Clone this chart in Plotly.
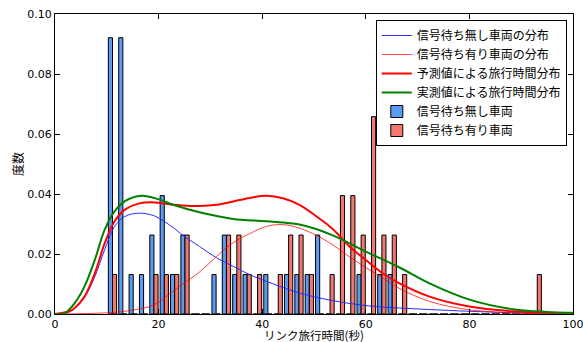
import plotly.graph_objects as go

# ---- histogram data (counts per 2-second bin, 38 vehicles each) ----
bin_left = 10.1
bin_width = 2.0
n_vehicles = 38
counts_free = [7, 7, 1, 1, 2, 3, 1, 2, 0, 0, 1, 2, 1, 1, 0, 1, 0, 1, 1, 1,
               2, 0, 0, 0, 1, 0, 1, 1, 0, 0, 0, 0, 0, 0, 0, 0, 0, 0, 0, 0, 0, 0]
counts_wait = [1, 0, 0, 0, 1, 1, 1, 2, 0, 0, 0, 2, 2, 1, 1, 0, 1, 2, 2, 1,
               0, 1, 3, 3, 2, 5, 2, 2, 1, 0, 0, 0, 0, 0, 0, 0, 0, 0, 0, 0, 0, 1]

# ---- fitted curves ----
free_x = [0, 2, 3.8, 5.7, 7.7, 9.6, 11.5, 13.5, 16.1, 19.2, 22.8, 24.7, 27.9, 31.2,
          34.4, 37.6, 40.8, 47.2, 53.5, 60, 66.5, 72.3, 80, 91.6, 100]
free_y = [0, 0.0002, 0.0019, 0.0056, 0.0125, 0.0215, 0.0292, 0.0325, 0.0336, 0.0327,
          0.0288, 0.0262, 0.0225, 0.0187, 0.0159, 0.0131, 0.0109, 0.0070, 0.0045,
          0.0028, 0.0020, 0.0015, 0.0009, 0.0003, 0.0001]

wait_x = [0, 10, 15, 19.2, 22.8, 24.7, 27.9, 31.2, 34.4, 37.6, 40.8, 44, 47.2, 50.5,
          53.5, 56.9, 60, 63.3, 66.5, 72.3, 80, 90, 100]
wait_y = [0, 0.0004, 0.0013, 0.0031, 0.0076, 0.0100, 0.0140, 0.0192, 0.0238, 0.0268,
          0.0292, 0.0298, 0.0286, 0.0262, 0.0232, 0.0190, 0.0155, 0.0120, 0.0085,
          0.0042, 0.0014, 0.0003, 0.0]

pred_x = [0, 2.8, 3.8, 5.7, 7.7, 9.6, 11.5, 13.5, 16.1, 19.2, 22.8, 27.9, 31.2, 34.4,
          37.6, 40.8, 44, 47.2, 50.5, 53.5, 56.9, 60, 63.3, 66.5, 72.3, 80, 88.4, 100]
pred_y = [0, 0.0009, 0.0020, 0.0058, 0.0136, 0.0236, 0.0309, 0.0348, 0.0368, 0.0372,
          0.0364, 0.0360, 0.0364, 0.0375, 0.0387, 0.0394, 0.0386, 0.0364, 0.0325,
          0.0285, 0.0224, 0.0180, 0.0135, 0.0102, 0.0058, 0.0025, 0.0009, 0.0002]

meas_x = [0, 1.9, 3.8, 5.7, 7.7, 9.6, 11.5, 13.5, 16.7, 19.9, 22.8, 27.9, 34.4, 40.8,
          47.2, 53.5, 60, 66.5, 72.3, 80, 88.4, 95, 100]
meas_y = [0, 0.0003, 0.0036, 0.0092, 0.0181, 0.0281, 0.0342, 0.0376, 0.0394, 0.0383,
          0.0364, 0.0339, 0.0317, 0.0309, 0.0298, 0.0263, 0.0208, 0.0155, 0.0102,
          0.0048, 0.0016, 0.0007, 0.0004]

x_ticks = [0, 20, 40, 60, 80, 100]
y_ticks = [0.00, 0.02, 0.04, 0.06, 0.08, 0.10]

bin_centers = [bin_left + bin_width * (i + 0.5) for i in range(len(counts_free))]
dens_free = [c / (n_vehicles * bin_width) for c in counts_free]
dens_wait = [c / (n_vehicles * bin_width) for c in counts_wait]

fig = go.Figure()
fig.add_trace(go.Bar(x=bin_centers, y=dens_free, name="信号待ち無し車両",
                     marker=dict(color="#5b9cf2", line=dict(color="black", width=1)),
                     legendrank=5))
fig.add_trace(go.Bar(x=bin_centers, y=dens_wait, name="信号待ち有り車両",
                     marker=dict(color="#f4776f", line=dict(color="black", width=1)),
                     legendrank=6))
fig.add_trace(go.Scatter(x=free_x, y=free_y, mode="lines", name="信号待ち無し車両の分布",
                         line=dict(color="#2a2aff", width=1, shape="spline"), legendrank=1))
fig.add_trace(go.Scatter(x=wait_x, y=wait_y, mode="lines", name="信号待ち有り車両の分布",
                         line=dict(color="rgba(255,0,0,0.75)", width=1, shape="spline"), legendrank=2))
fig.add_trace(go.Scatter(x=pred_x, y=pred_y, mode="lines", name="予測値による旅行時間分布",
                         line=dict(color="#ff0000", width=2, shape="spline"), legendrank=3))
fig.add_trace(go.Scatter(x=meas_x, y=meas_y, mode="lines", name="実測値による旅行時間分布",
                         line=dict(color="#008000", width=2, shape="spline"), legendrank=4))

axis_common = dict(showgrid=False, zeroline=False, showline=True, linecolor="black",
                   linewidth=1, mirror="ticks", ticks="inside", ticklen=5,
                   tickcolor="black", automargin=False, ticklabeloverflow="allow",
                   tickfont=dict(family="DejaVu Sans", size=11, color="black"))

fig.update_xaxes(range=[0, 100], tickvals=x_ticks, ticktext=[str(v) for v in x_ticks],
                 **axis_common)
fig.update_yaxes(range=[0, 0.1], tickvals=y_ticks, ticktext=[f"{v:.2f}" for v in y_ticks],
                 **axis_common)

fig.add_annotation(text="リンク旅行時間(秒)", xref="paper", yref="paper",
                   x=0.5, y=0, yshift=-21, xanchor="center", yanchor="middle",
                   showarrow=False, borderpad=0,
                   font=dict(family="Noto Sans CJK JP", size=11.5, color="black"))
fig.add_annotation(text="度数", xref="paper", yref="paper",
                   x=0, y=0.5, xshift=-38, xanchor="center", yanchor="middle",
                   textangle=-90, showarrow=False,
                   font=dict(family="Noto Sans CJK JP", size=12, color="black"))

fig.update_layout(
    width=583, height=342,
    margin=dict(l=55, r=10, t=14, b=28, autoexpand=False),
    plot_bgcolor="white", paper_bgcolor="white",
    barmode="group", bargap=0.2, bargroupgap=0,
    legend=dict(x=0.988, y=0.98, xanchor="right", yanchor="top",
                bgcolor="white", bordercolor="black", borderwidth=1,
                font=dict(family="Noto Sans CJK JP", size=12, color="black"),
                tracegroupgap=0, itemwidth=30),
    font=dict(family="Noto Sans CJK JP"),
)

fig.write_html("out.html", config={"displayModeBar": False},
               post_script="document.body.style.margin='0';document.body.style.overflow='hidden';")
